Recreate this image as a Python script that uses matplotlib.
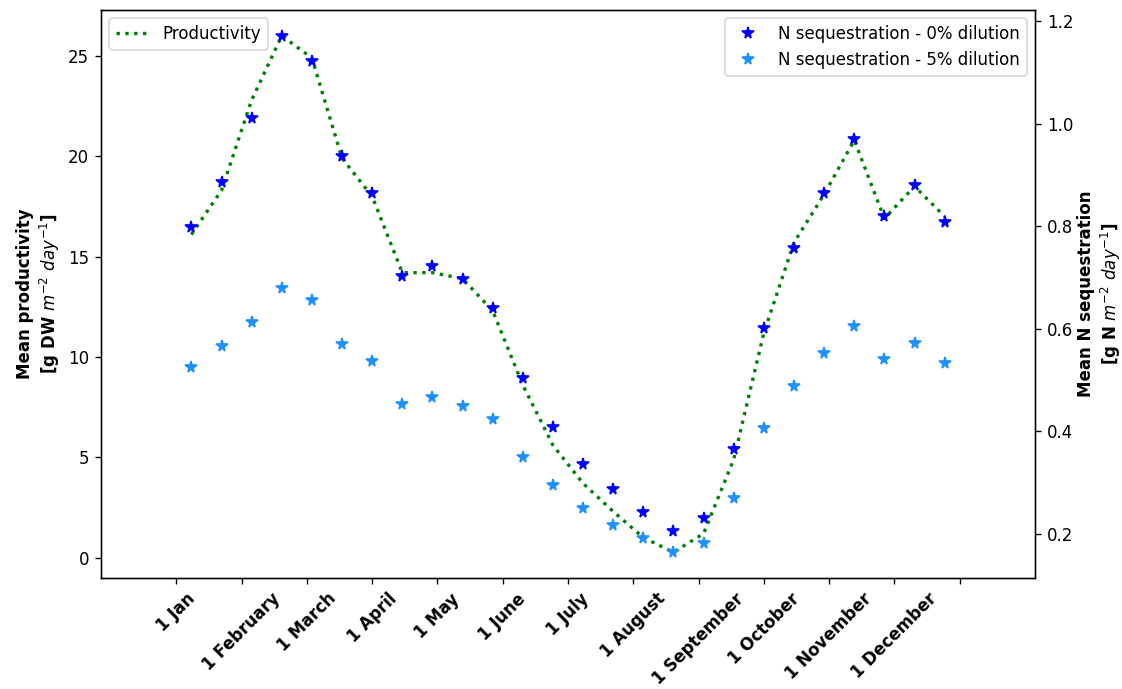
import numpy as np
import matplotlib
matplotlib.use("Agg")
import matplotlib.pyplot as plt

#%% data (fortnightly values, x in weeks)

weeks = [1, 3, 5, 7, 9, 11, 13, 15, 17, 19, 21, 23, 25,
         27, 29, 31, 33, 35, 37, 39, 41, 43, 45, 47, 49, 51]

productivity = [16.1, 18.3, 22.8, 26.0, 24.9, 19.9, 18.0, 14.2, 14.2, 13.9,
                12.3, 8.6, 5.6, 3.7, 2.3, 1.0, 0.27, 1.2, 4.9, 11.2,
                15.7, 18.1, 20.8, 16.9, 18.5, 17.0]

n_seq_0 = [0.799, 0.886, 1.011, 1.171, 1.122, 0.937, 0.864, 0.702, 0.723, 0.696,
           0.640, 0.503, 0.409, 0.336, 0.287, 0.243, 0.205, 0.230, 0.365, 0.601,
           0.758, 0.865, 0.970, 0.820, 0.880, 0.807]

n_seq_5 = [0.525, 0.566, 0.612, 0.680, 0.655, 0.571, 0.536, 0.454, 0.466, 0.449,
           0.423, 0.349, 0.295, 0.251, 0.218, 0.192, 0.164, 0.183, 0.270, 0.406,
           0.489, 0.553, 0.606, 0.541, 0.572, 0.533]

month_labels = ['1 Jan', '1 February', '1 March', '1 April', '1 May', '1 June',
                '1 July', '1 August', '1 September', '1 October', '1 November',
                '1 December', '']

#%% plot

dpi = 120
fig, ax = plt.subplots(figsize=(1122 / dpi, 689 / dpi), dpi=dpi)
fig.subplots_adjust(left=0.090, right=0.9225, top=0.9855, bottom=0.161)

ax.plot(weeks, productivity, color='green', linestyle=':', linewidth=2,
        label='Productivity')
ax.set_ylabel('Mean productivity\n[g DW $m^{-2}$ $day^{-1}$]', fontweight='bold')
ax.set_xlim(-5, 57)
ax.set_xticks(np.linspace(0, 52, 13))
ax.set_xticklabels(month_labels, rotation=45, fontweight='bold')
ax.legend(loc='upper left')

ax2 = ax.twinx()
ax2.plot(weeks, n_seq_0, linestyle='none', marker='*', markersize=7,
         color='blue', label='N sequestration - 0% dilution')
ax2.plot(weeks, n_seq_5, linestyle='none', marker='*', markersize=7,
         color='dodgerblue', label='N sequestration - 5% dilution')
ax2.set_ylabel('Mean N sequestration\n[g N $m^{-2}$ $day^{-1}$]', fontweight='bold',
               labelpad=2.5)
ax2.legend(loc='upper right')

plt.savefig('out.png', dpi=dpi)
